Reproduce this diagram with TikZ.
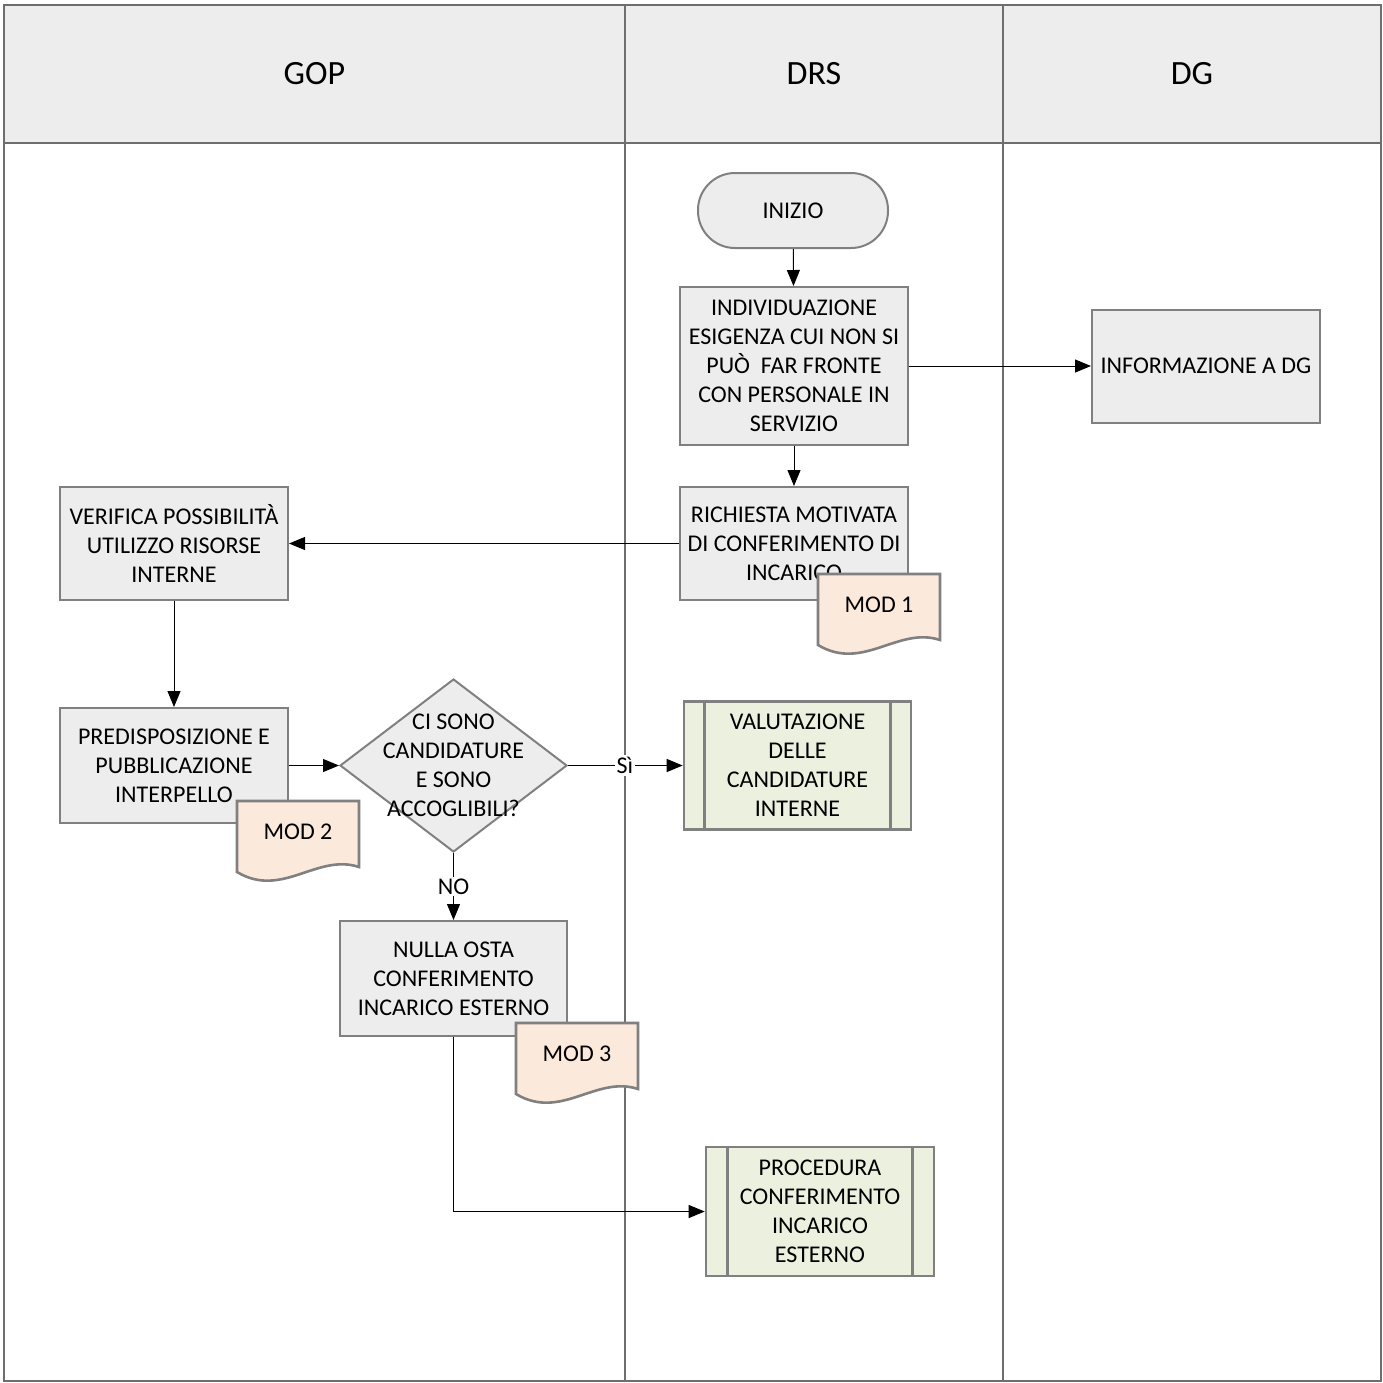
\documentclass[tikz,border=0pt]{standalone}
\usepackage{fontspec}
\setmainfont{Carlito}
\usetikzlibrary{arrows.meta,shapes.geometric}
\definecolor{boxfill}{HTML}{EDEDED}
\definecolor{boxline}{HTML}{808080}
\definecolor{docfill}{HTML}{FBE9DC}
\definecolor{subfill}{HTML}{EBF1DE}
\definecolor{laneline}{HTML}{6E6E6E}
\newcommand\docshape[4]{%
  \path[docpath] ({#2},{#3}) -- ({#2+122},{#3}) -- ({#2+122},{#3+66})
    .. controls ({#2+80},{#3+52}) and ({#2+45},{#3+98}) .. ({#2},{#3+71}) -- cycle;
  \node[doctext] (#1) at ({#2+61},{#3+31}) {#4};}
\begin{document}
\begin{tikzpicture}[x=0.5pt,y=-0.5pt,
  lane/.style={draw=laneline, line width=1pt},
  head/.style={font=\fontsize{17}{20}\selectfont},
  basebox/.style={draw=boxline, line width=1pt, inner sep=0pt, align=center,
    font=\fontsize{12}{14.5}\selectfont},
  proc/.style={basebox, rectangle, fill=boxfill, minimum width=114pt, minimum height=56.5pt},
  term/.style={basebox, rectangle, rounded corners=18.5pt, fill=boxfill, minimum width=95pt, minimum height=37.5pt},
  dec/.style={basebox, diamond, fill=boxfill, minimum width=113.5pt, minimum height=86.5pt},
  dectext/.style={align=center, inner sep=0pt, font=\fontsize{12}{14.5}\selectfont},
  sub/.style={basebox, rectangle, fill=subfill, line width=1.3pt, minimum width=114pt, minimum height=64.5pt},
  docpath/.style={draw=boxline, line width=1.3pt, fill=docfill},
  doctext/.style={inner sep=0pt, font=\fontsize{12}{14.5}\selectfont},
  conn/.style={draw=black, line width=0.5pt, -{Triangle[length=8pt,width=6.5pt]}},
  lbl/.style={fill=white, inner sep=1pt, font=\fontsize{12}{14.5}\selectfont}
]
\useasboundingbox (0,0) rectangle (1383,1383);
% swimlanes
\fill[boxfill] (4,5) rectangle (1381,143);
\draw[lane] (4,5) rectangle (1381,1381);
\draw[lane] (4,143) -- (1381,143);
\draw[lane] (625,5) -- (625,1381);
\draw[lane] (1003,5) -- (1003,1381);
\node[head] (hgop) at (314.5,74) {GOP};
\node[head] (hdrs) at (814,74) {DRS};
\node[head] (hdg) at (1192,74) {DG};

% nodes
\node[term] (inizio) at (793,210.5) {INIZIO};
\node[proc, minimum height=79pt] (indiv) at (794,366) {INDIVIDUAZIONE\\ESIGENZA CUI NON SI\\PUÒ\ \ FAR FRONTE\\CON PERSONALE IN\\SERVIZIO};
\node[proc] (info) at (1206,366) {INFORMAZIONE A DG};
\node[proc] (rich) at (794,543.5) {RICHIESTA MOTIVATA\\DI CONFERIMENTO DI\\INCARICO};
\docshape{mod1}{818}{574}{MOD 1}
\node[proc] (verif) at (174,543.5) {VERIFICA POSSIBILITÀ\\UTILIZZO RISORSE\\INTERNE};
\node[proc, minimum height=57.5pt] (predisp) at (174,765.5) {PREDISPOSIZIONE E\\PUBBLICAZIONE\\INTERPELLO};
\docshape{mod2}{237}{801}{MOD 2}
\node[dec] (dec) at (453.5,765.5) {};
\node[dectext] (dect) at (453.5,765.5) {CI SONO\\CANDIDATURE\\E SONO\\ACCOGLIBILI?};
\node[sub, minimum width=113.5pt, minimum height=64pt] (valut) at (797.5,765.5) {VALUTAZIONE\\DELLE\\CANDIDATURE\\INTERNE};
\draw[boxline, line width=1.3pt] ([xshift=11pt]valut.north west) -- ([xshift=11pt]valut.south west);
\draw[boxline, line width=1.3pt] ([xshift=-11pt]valut.north east) -- ([xshift=-11pt]valut.south east);
\node[proc, minimum width=113.5pt, minimum height=57.5pt] (nulla) at (453.5,978.5) {NULLA OSTA\\CONFERIMENTO\\INCARICO ESTERNO};
\docshape{mod3}{516}{1023}{MOD 3}
\node[sub] (proc) at (820,1211.5) {PROCEDURA\\CONFERIMENTO\\INCARICO\\ESTERNO};
\draw[boxline, line width=1.3pt] ([xshift=11.5pt]proc.north west) -- ([xshift=11.5pt]proc.south west);
\draw[boxline, line width=1.3pt] ([xshift=-11.5pt]proc.north east) -- ([xshift=-11.5pt]proc.south east);

% connectors
\draw[conn] (inizio) -- (indiv);
\draw[conn] (indiv.east) -- (info.west);
\draw[conn] (indiv) -- (rich);
\draw[conn] (rich.west) -- (verif.east);
\draw[conn] (verif) -- (predisp);
\draw[conn] (predisp.east) -- (dec.west);
\draw[conn] (dec.east) -- node[lbl, pos=0.496] {Sì} (valut.west);
\draw[conn] (dec.south) -- node[lbl, pos=0.5] {NO} (nulla.north);
\draw[conn] (nulla.south) |- (proc.west);
\end{tikzpicture}
\end{document}
